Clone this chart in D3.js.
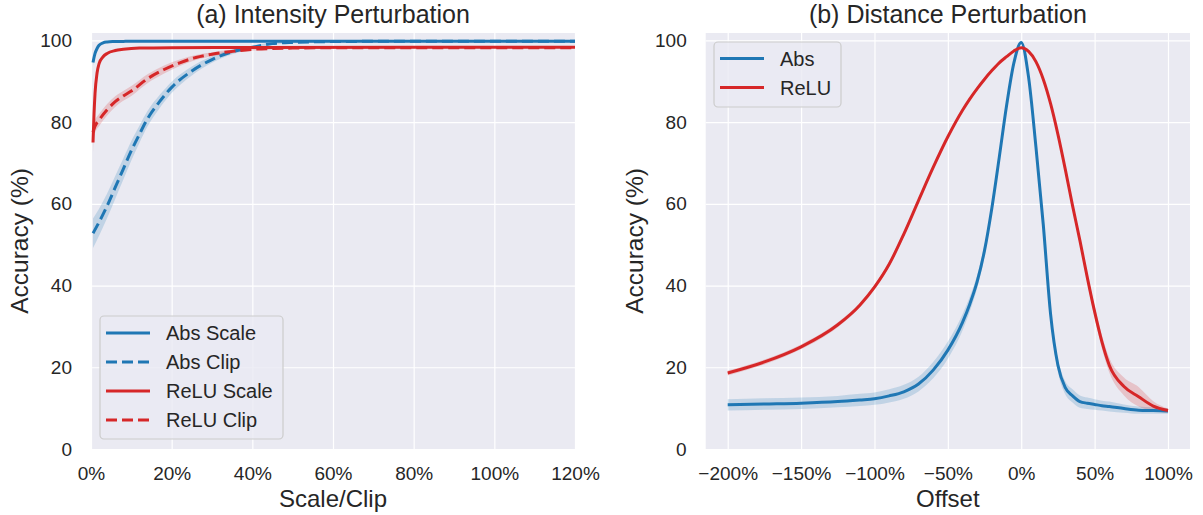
<!DOCTYPE html>
<html>
<head>
<meta charset="utf-8">
<script src="https://cdn.jsdelivr.net/npm/d3@7"></script>
<style>
    body { margin: 0; background: #ffffff; }
    text { font-family: "Liberation Sans", Arial, Helvetica, sans-serif; fill: #262626; }
</style>
</head>
<body>
<svg id="fig" width="1203" height="515"></svg>
<script>
// ---------- data: (a) intensity perturbation ----------
var absScaleX   = [0.5, 1, 1.5, 2, 3, 4, 5.5, 8, 12, 20, 40, 60, 80, 100, 120];
var absScaleY   = [94.6, 96.8, 98.0, 98.8, 99.4, 99.6, 99.7, 99.75, 99.8, 99.8, 99.8, 99.8, 99.8, 99.8, 99.8];
var absScaleSd  = [0.8, 0.5, 0.3, 0.2, 0.2, 0.1, 0.1, 0.1, 0.1, 0.1, 0.1, 0.1, 0.1, 0.1, 0.1];

var reluScaleX  = [0.5, 0.75, 1, 1.5, 2, 3, 4, 6, 8, 12, 20, 40, 120];
var reluScaleY  = [75.0, 82.0, 87.0, 92.0, 94.3, 96.0, 96.8, 97.5, 97.8, 98.1, 98.2, 98.25, 98.3];
var reluScaleSd = [2.6, 1.5, 1.0, 0.6, 0.4, 0.3, 0.2, 0.2, 0.1, 0.1, 0.1, 0.1, 0.1];

var absClipX    = [0.5, 2, 4, 6, 8, 10, 12, 14, 17, 20, 25, 30, 35, 40, 45, 50, 60, 80, 120];
var absClipY    = [52.8, 55.5, 59.5, 64.0, 68.5, 73.0, 77.0, 80.8, 85.0, 88.5, 92.5, 95.3, 97.2, 98.3, 99.2, 99.5, 99.7, 99.8, 99.8];
var absClipSd   = [3.6, 3.3, 3.0, 2.8, 2.6, 2.4, 2.1, 1.9, 1.6, 1.4, 1.1, 0.8, 0.6, 0.4, 0.3, 0.2, 0.2, 0.1, 0.1];

var reluClipX   = [0.5, 1, 2, 4, 6, 8, 10, 14, 18, 22, 26, 30, 35, 40, 50, 60, 120];
var reluClipY   = [77.5, 79.0, 80.5, 83.0, 85.0, 86.4, 87.6, 90.6, 92.8, 94.5, 95.8, 96.6, 97.3, 97.8, 98.1, 98.2, 98.2];
var reluClipSd  = [1.8, 1.6, 1.5, 1.4, 1.3, 1.2, 1.2, 1.1, 1.0, 0.8, 0.6, 0.5, 0.4, 0.3, 0.2, 0.2, 0.1];

var scaleTicks  = [0, 20, 40, 60, 80, 100, 120];

// ---------- data: (b) distance perturbation ----------
var offsetX  = [-200, -175, -150, -125, -110, -100, -90, -80, -70, -60, -50, -40, -35, -30, -25, -20, -15, -10, -5, 0,
                5, 10, 15, 20, 25, 30, 35, 40, 45, 50, 55, 60, 70, 80, 90, 100];
var absOffY  = [10.8, 11.0, 11.2, 11.6, 12.0, 12.3, 13.0, 14.0, 15.9, 19.3, 24.2, 31.0, 35.5, 41.0, 48.6, 59.0, 71.3, 84.0, 94.5, 99.5,
                91.0, 74.0, 55.0, 33.0, 20.5, 15.0, 13.0, 11.6, 11.2, 10.9, 10.6, 10.4, 9.9, 9.5, 9.4, 9.3];
var absOffSd = [1.4, 1.4, 1.4, 1.4, 1.5, 1.5, 1.6, 1.7, 1.8, 2.0, 2.1, 2.0, 1.8, 1.6, 1.4, 1.2, 1.0, 0.8, 0.5, 0.4,
                0.6, 0.8, 1.0, 1.4, 1.6, 1.6, 1.6, 1.5, 1.4, 1.3, 1.2, 1.2, 1.0, 0.9, 0.8, 0.7];
var reluOffY  = [18.6, 21.3, 25.0, 30.4, 35.2, 39.6, 45.2, 52.6, 60.8, 68.9, 76.4, 82.9, 85.7, 88.2, 90.5, 92.6, 94.5, 96.0, 97.4, 98.2,
                 97.3, 94.8, 90.5, 84.5, 77.0, 68.5, 59.5, 51.0, 42.0, 33.6, 26.2, 20.5, 15.3, 12.8, 10.5, 9.4];
var reluOffSd = [0.6, 0.6, 0.6, 0.6, 0.6, 0.6, 0.6, 0.6, 0.5, 0.5, 0.5, 0.4, 0.4, 0.4, 0.4, 0.3, 0.3, 0.3, 0.3, 0.3,
                 0.3, 0.4, 0.5, 0.6, 0.7, 0.8, 0.9, 1.0, 1.2, 1.4, 1.6, 1.8, 2.2, 2.4, 1.2, 0.5];
var offsetTicks = [-200, -150, -100, -50, 0, 50, 100];

var accTicks = [0, 20, 40, 60, 80, 100];

var BLUE = "#1f77b4", RED = "#d62728";

var svg = d3.select("#fig");

function zip(xs, ys, sd) {
    return xs.map(function(x, i) { return {x: x, y: ys[i], s: sd[i]}; });
}

// matplotlib style percent labels with a real minus sign
function pct(d) { return (d < 0 ? "\u2212" + (-d) : d) + "%"; }

function drawPanel(p) {
    var x = d3.scaleLinear().domain(p.xDomain).range([p.left, p.right]);
    var y = d3.scaleLinear().domain([0, 101.8]).range([p.bottom, p.top]);
    var g = svg.append("g");

    g.append("rect")
        .attr("x", p.left).attr("y", p.top)
        .attr("width", p.right - p.left).attr("height", p.bottom - p.top)
        .attr("fill", "#eaeaf2");

    // grid lines
    g.append("g").attr("transform", "translate(0," + p.bottom + ")")
        .call(d3.axisBottom(x).tickValues(p.xTicks).tickSize(-(p.bottom - p.top)).tickFormat(""))
        .call(function(a) { a.select(".domain").remove(); a.selectAll("line").attr("stroke", "#ffffff").attr("stroke-width", 1.2); });
    g.append("g").attr("transform", "translate(" + p.left + ",0)")
        .call(d3.axisLeft(y).tickValues(accTicks).tickSize(-(p.right - p.left)).tickFormat(""))
        .call(function(a) { a.select(".domain").remove(); a.selectAll("line").attr("stroke", "#ffffff").attr("stroke-width", 1.2); });

    // tick labels
    g.append("g").attr("transform", "translate(0," + p.bottom + ")")
        .call(d3.axisBottom(x).tickValues(p.xTicks).tickSize(0).tickPadding(0).tickFormat(pct))
        .call(function(a) {
            a.select(".domain").remove();
            a.selectAll("text").attr("y", 31).attr("dy", null).attr("font-size", 19).style("fill", "#262626")
                .attr("font-family", "Liberation Sans, Arial, sans-serif");
        });
    g.append("g").attr("transform", "translate(" + p.left + ",0)")
        .call(d3.axisLeft(y).tickValues(accTicks).tickSize(0).tickPadding(19))
        .call(function(a) {
            a.select(".domain").remove();
            a.selectAll("text").attr("font-size", 19).style("fill", "#262626")
                .attr("font-family", "Liberation Sans, Arial, sans-serif");
        });

    var cx = (p.left + p.right) / 2;
    g.append("text").attr("x", cx).attr("y", 23).attr("text-anchor", "middle")
        .attr("font-size", 25).text(p.title);
    g.append("text").attr("x", cx).attr("y", 507).attr("text-anchor", "middle")
        .attr("font-size", 24).text(p.xLabel);
    g.append("text").attr("transform", "translate(" + (p.left - 63) + "," + ((p.top + p.bottom) / 2) + ") rotate(-90)")
        .attr("text-anchor", "middle").attr("font-size", 24.5).text("Accuracy (%)");

    var area = d3.area().curve(d3.curveMonotoneX)
        .x(function(d) { return x(d.x); })
        .y0(function(d) { return y(d.y - d.s); })
        .y1(function(d) { return y(d.y + d.s); });
    var line = d3.line().curve(d3.curveMonotoneX)
        .x(function(d) { return x(d.x); })
        .y(function(d) { return y(d.y); });

    p.series.forEach(function(s) {
        g.append("path").datum(s.data).attr("d", area)
            .attr("fill", s.color).attr("fill-opacity", 0.2).attr("stroke", "none");
    });
    p.series.forEach(function(s) {
        g.append("path").datum(s.data).attr("d", line)
            .attr("fill", "none").attr("stroke", s.color).attr("stroke-width", 3)
            .attr("stroke-dasharray", s.dashed ? "11,5" : null)
            .attr("stroke-linejoin", "round");
    });

    // legend
    var L = p.legend;
    var lg = g.append("g");
    lg.append("rect").attr("x", L.x).attr("y", L.y).attr("width", L.w).attr("height", L.h)
        .attr("rx", 4).attr("fill", "#eaeaf2").attr("fill-opacity", 0.8)
        .attr("stroke", "#cccccc").attr("stroke-width", 1.2);
    p.series.forEach(function(s, i) {
        var ry = L.y + L.first + i * L.step;
        lg.append("line").attr("x1", L.x + 6).attr("x2", L.x + 50).attr("y1", ry).attr("y2", ry)
            .attr("stroke", s.color).attr("stroke-width", 3)
            .attr("stroke-dasharray", s.dashed ? "11,5" : null);
        lg.append("text").attr("x", L.x + 66).attr("y", ry).attr("dy", "0.35em")
            .attr("font-size", 20).text(s.name);
    });
}

drawPanel({
    left: 91, right: 575, top: 33, bottom: 449,
    xDomain: [0, 120], xTicks: scaleTicks,
    title: "(a) Intensity Perturbation", xLabel: "Scale/Clip",
    legend: {x: 100, y: 316, w: 183, h: 123, first: 17, step: 29},
    series: [
        {name: "Abs Scale",  color: BLUE, dashed: false, data: zip(absScaleX, absScaleY, absScaleSd)},
        {name: "Abs Clip",   color: BLUE, dashed: true,  data: zip(absClipX, absClipY, absClipSd)},
        {name: "ReLU Scale", color: RED,  dashed: false, data: zip(reluScaleX, reluScaleY, reluScaleSd)},
        {name: "ReLU Clip",  color: RED,  dashed: true,  data: zip(reluClipX, reluClipY, reluClipSd)}
    ]
});

drawPanel({
    left: 705.7, right: 1190, top: 33, bottom: 449,
    xDomain: [-215, 115], xTicks: offsetTicks,
    title: "(b) Distance Perturbation", xLabel: "Offset",
    legend: {x: 714, y: 42, w: 127, h: 65, first: 16.5, step: 29},
    series: [
        {name: "Abs",  color: BLUE, dashed: false, data: zip(offsetX, absOffY, absOffSd)},
        {name: "ReLU", color: RED,  dashed: false, data: zip(offsetX, reluOffY, reluOffSd)}
    ]
});
</script>
</body>
</html>
